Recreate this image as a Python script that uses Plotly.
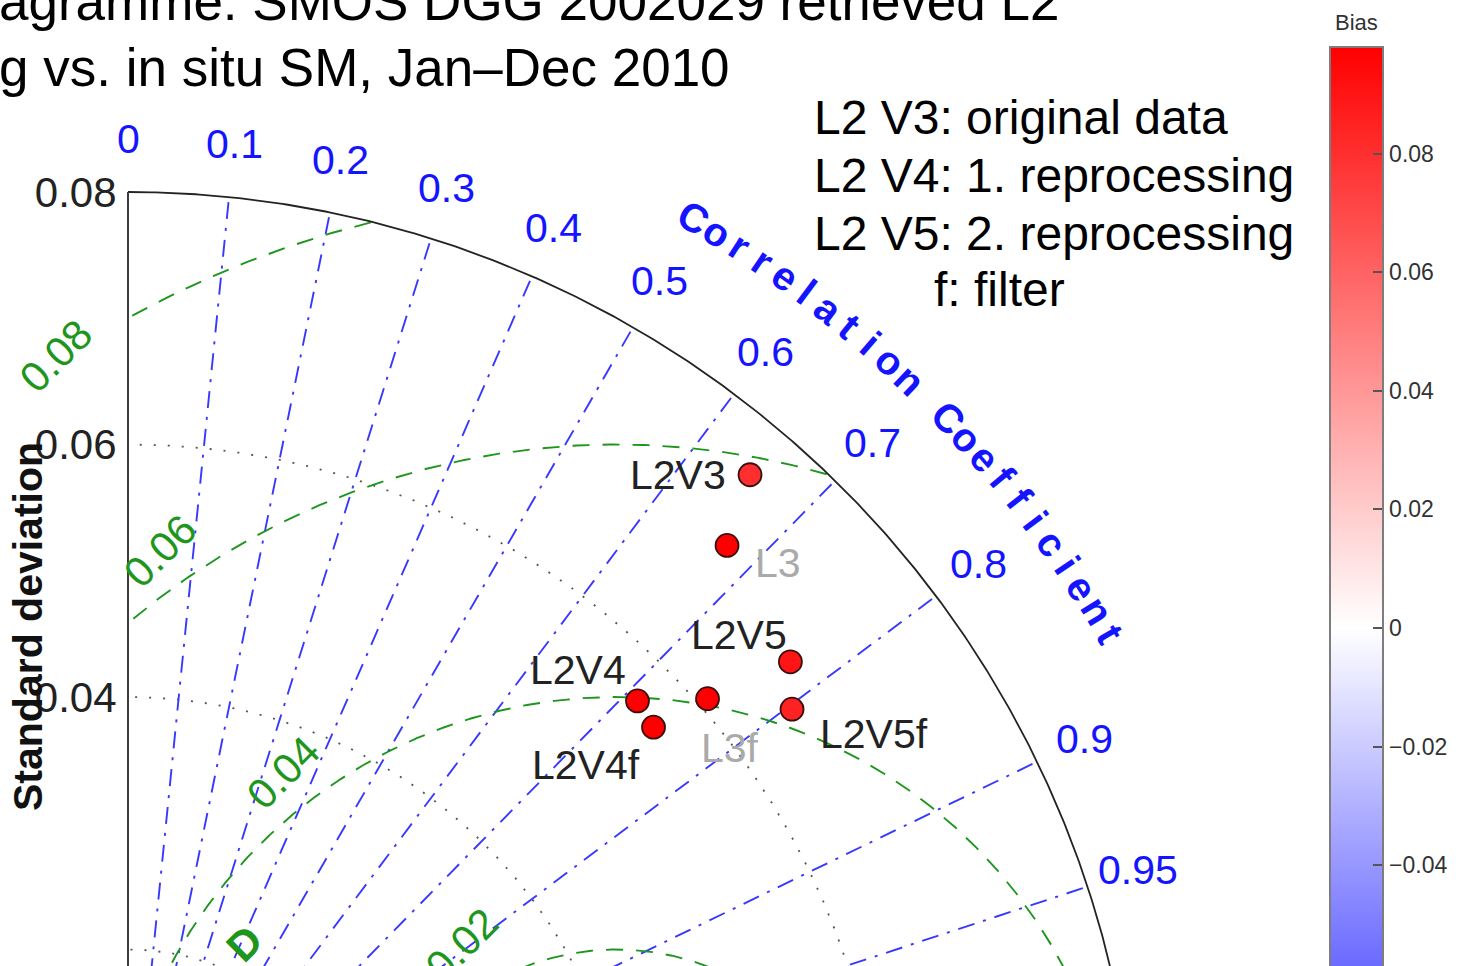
import numpy as np
import plotly.graph_objects as go

# ---------------- data ----------------
names = ["L2V3", "L3", "L2V5", "L3f", "L2V4", "L2V4f", "L2V5f"]
std_dev = [0.0758, 0.0704, 0.0677, 0.0608, 0.0566, 0.0561, 0.0655]
correlation = [0.650, 0.674, 0.775, 0.755, 0.713, 0.742, 0.803]
bias = [0.080, 0.098, 0.090, 0.098, 0.098, 0.098, 0.085]
ref_std = 0.0387
std_max = 0.08
corr_ticks = [0, 0.1, 0.2, 0.3, 0.4, 0.5, 0.6, 0.7, 0.8, 0.9, 0.95, 0.99]
std_ticks = [0.02, 0.04, 0.06, 0.08]
std_ticktext = ["0.02", "0.04", "0.06", "0.08"]
rms_levels = [0.02, 0.04, 0.06, 0.08]
rms_labels = ["0.02", "0.04", "0.06", "0.08"]
bias_range = [-0.098, 0.098]
cbar_ticks = [-0.08, -0.06, -0.04, -0.02, 0, 0.02, 0.04, 0.06, 0.08]
cbar_ticktext = ["\u22120.08", "\u22120.06", "\u22120.04", "\u22120.02", "0",
                 "0.02", "0.04", "0.06", "0.08"]
title_lines = ["agramme: SMOS DGG 2002029 retrieved L2", "g vs. in situ SM, Jan\u2013Dec 2010"]
legend_lines = ["L2 V3: original data", "L2 V4: 1. reprocessing", "L2 V5: 2. reprocessing", "f: filter"]
corr_title = "Correlation Coefficient"

# ---------------- layout geometry (styles) ----------------
W, H = 1458, 966
PX = 12625.0          # pixels per std unit
OX, OY = 128, 1202    # pixel position of origin
xr = [-OX / PX, (W - OX) / PX]
yr = [(OY - H) / PX, OY / PX]
FONT = "Liberation Sans, Arial, Helvetica, sans-serif"
BLUE = "rgb(55,55,255)"
GREEN = "rgb(30,150,30)"
GRAY = "rgb(85,85,85)"

def px2paper(px, py):
    return px / W, 1 - py / H

fig = go.Figure()

# std arcs (dotted gray)
th = np.linspace(0, np.pi / 2, 400)
for s in std_ticks[:-1]:
    fig.add_trace(go.Scatter(x=s * np.cos(th), y=s * np.sin(th), mode="lines",
                             line=dict(color=GRAY, width=1.8, dash="2px,12px"),
                             hoverinfo="skip"))

# correlation lines (blue dash-dot)
for r in corr_ticks[1:]:
    fig.add_trace(go.Scatter(x=[0, std_max * r], y=[0, std_max * np.sqrt(1 - r * r)],
                             mode="lines",
                             line=dict(color=BLUE, width=1.9, dash="17px,9px,3px,9px"),
                             hoverinfo="skip"))

# RMS circles (green dashed)
ph = np.linspace(0, np.pi, 800)
for lv in rms_levels:
    x = ref_std + lv * np.cos(ph)
    y = lv * np.sin(ph)
    m = (np.sqrt(x ** 2 + y ** 2) > std_max) | (x < 0)
    x = np.where(m, np.nan, x)
    y = np.where(m, np.nan, y)
    fig.add_trace(go.Scatter(x=x, y=y, mode="lines",
                             line=dict(color=GREEN, width=1.9, dash="17px,13px"),
                             hoverinfo="skip", connectgaps=False))

# outer arc + y axis line
fig.add_trace(go.Scatter(x=std_max * np.cos(th), y=std_max * np.sin(th), mode="lines",
                         line=dict(color="rgb(35,35,35)", width=1.8), hoverinfo="skip"))
fig.add_trace(go.Scatter(x=[0, 0], y=[0, std_max], mode="lines",
                         line=dict(color="rgb(60,60,60)", width=2), hoverinfo="skip"))

# data points
sd = np.array(std_dev)
cr = np.array(correlation)
px_ = sd * cr
py_ = sd * np.sqrt(1 - cr ** 2)
CB_TOP, CB_LEN, CB_LEFT, CB_TH = 47, 1162, 1330, 53
fig.add_trace(go.Scatter(
    x=px_, y=py_, mode="markers", hoverinfo="skip",
    marker=dict(size=23, color=bias, cmin=bias_range[0], cmax=bias_range[1],
                colorscale=[[0, "rgb(0,0,255)"], [0.5, "rgb(255,255,255)"], [1, "rgb(255,0,0)"]],
                line=dict(color="rgb(60,15,15)", width=1.8),
                showscale=True,
                colorbar=dict(x=CB_LEFT / W, xanchor="left", xpad=0,
                              y=1 - CB_TOP / H, yanchor="top", ypad=0,
                              len=CB_LEN, lenmode="pixels", thickness=CB_TH,
                              outlinecolor="rgb(125,125,125)", outlinewidth=2,
                              tickvals=cbar_ticks, ticktext=cbar_ticktext,
                              ticks="inside", ticklen=11, tickwidth=2,
                              tickcolor="rgb(85,85,85)",
                              tickfont=dict(family=FONT, size=23, color="rgb(50,50,50)")))))

ann = []
# point labels
label_style = {
    "L2V3": ("right", -22, 0, "#222"),
    "L3": ("left", 26, -18, "#aaaaaa"),
    "L2V5": ("right", -1, 27, "#222"),
    "L3f": ("left", -9, -49, "#aaaaaa"),
    "L2V4": ("right", -9, 31, "#222"),
    "L2V4f": ("right", -12, -38, "#222"),
    "L2V5f": ("left", 26, -25, "#222"),
}
for n, x, y in zip(names, px_, py_):
    xa, xs, ys, col = label_style[n]
    ann.append(dict(x=x, y=y, xref="x", yref="y", text=n, showarrow=False,
                    xanchor=xa, yanchor="middle", xshift=xs, yshift=ys,
                    font=dict(family=FONT, size=41, color=col)))

# correlation tick labels
for r in corr_ticks:
    a = np.arccos(r)
    ann.append(dict(x=0.0842 * np.cos(a), y=0.0842 * np.sin(a), xref="x", yref="y",
                    text=f"{r:g}", showarrow=False, xanchor="center", yanchor="middle",
                    font=dict(family=FONT, size=41, color="rgb(20,20,255)")))

# curved "Correlation Coefficient"
a0, da, rad = 60.1, 1.366, 0.0899
for i, ch in enumerate(corr_title):
    if ch == " ":
        continue
    a = np.deg2rad(a0 - i * da)
    ann.append(dict(x=rad * np.cos(a), y=rad * np.sin(a), xref="x", yref="y",
                    text=f"<b>{ch}</b>", showarrow=False, xanchor="center", yanchor="middle",
                    textangle=90 - (a0 - i * da),
                    font=dict(family=FONT, size=40, color="rgb(20,20,255)")))

# RMS labels
rms_lab_ang = [121.0, 127.8, 125.0, 123.5]
rms_lab_rad = [0.0238, 0.0431, 0.0630, 0.0804]
for t, a, rr in zip(rms_labels, rms_lab_ang, rms_lab_rad):
    a = np.deg2rad(a)
    ann.append(dict(x=ref_std + rr * np.cos(a), y=rr * np.sin(a), xref="x", yref="y",
                    text=t, showarrow=False, xanchor="center", yanchor="middle",
                    textangle=-45, font=dict(family=FONT, size=42, color=GREEN)))
a = np.deg2rad(145.2)
ann.append(dict(x=ref_std + 0.0359 * np.cos(a), y=0.0359 * np.sin(a), xref="x", yref="y",
                text="<b>D</b>", showarrow=False, xanchor="center", yanchor="middle",
                textangle=-45, font=dict(family=FONT, size=42, color=GREEN)))

# y axis title
x0, y0 = px2paper(28, 627)
ann.append(dict(x=x0, y=y0, xref="paper", yref="paper", text="<b>Standard deviation</b>",
                showarrow=False, textangle=-90, xanchor="center", yanchor="middle",
                font=dict(family=FONT, size=41, color="#111")))

# title (cropped)
for t, (lx, ly) in zip(title_lines, [(-3, 1), (-3, 67)]):
    x0, y0 = px2paper(lx, ly)
    ann.append(dict(x=x0, y=y0, xref="paper", yref="paper", text=t, showarrow=False,
                    xanchor="left", yanchor="middle",
                    font=dict(family=FONT, size=53, color="#000")))

# legend text
for t, (lx, ly) in zip(legend_lines, [(812, 117), (812, 175), (812, 233), (932, 290)]):
    x0, y0 = px2paper(lx, ly)
    ann.append(dict(x=x0, y=y0, xref="paper", yref="paper", text=t, showarrow=False,
                    xanchor="left", yanchor="middle",
                    font=dict(family=FONT, size=48, color="#000")))

# colorbar title
x0, y0 = px2paper(CB_LEFT + CB_TH / 2, 22)
ann.append(dict(x=x0, y=y0, xref="paper", yref="paper", text="Bias", showarrow=False,
                xanchor="center", yanchor="middle",
                font=dict(family=FONT, size=22, color="rgb(50,50,50)")))

# left-side colorbar ticks
shapes = []
span = bias_range[1] - bias_range[0]
for v in cbar_ticks:
    pyv = CB_TOP + (bias_range[1] - v) / span * CB_LEN
    if pyv < CB_TOP + 2 or pyv > H:
        continue
    xa_, ya_ = px2paper(CB_LEFT, pyv)
    xb_, _ = px2paper(CB_LEFT + 11, pyv)
    shapes.append(dict(type="line", xref="paper", yref="paper", x0=xa_, x1=xb_, y0=ya_, y1=ya_,
                       line=dict(color="rgb(85,85,85)", width=2)))

fig.update_layout(
    width=W, height=H, margin=dict(l=0, r=0, t=0, b=0, autoexpand=False),
    paper_bgcolor="white", plot_bgcolor="white", showlegend=False,
    xaxis=dict(range=xr, visible=False, domain=[0, 1]),
    yaxis=dict(range=yr, domain=[0, 1], anchor="free", position=OX / W,
               tickvals=std_ticks, ticktext=std_ticktext, ticks="outside", ticklen=3,
               tickcolor="rgba(0,0,0,0)", showgrid=False, zeroline=False, showline=False,
               tickfont=dict(family=FONT, size=42, color="#222")),
    annotations=ann, shapes=shapes,
)

fig.write_html("out.html", config={"displayModeBar": False},
               post_script="document.body.style.margin='0';document.body.style.overflow='hidden';")
